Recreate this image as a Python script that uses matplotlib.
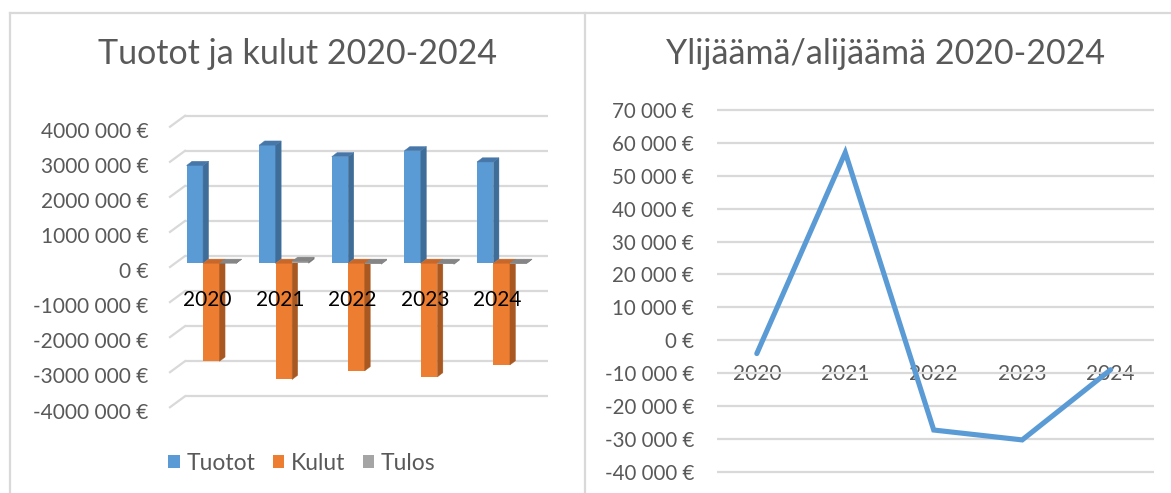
import numpy as np
import matplotlib
matplotlib.use('Agg')
import matplotlib.pyplot as plt
from matplotlib.patches import Polygon
from matplotlib.lines import Line2D
from matplotlib.transforms import ScaledTranslation

plt.rcParams['font.family'] = ['Lato', 'DejaVu Sans']

# data
years = ['2020', '2021', '2022', '2023', '2024']
tuotot = [2790000, 3370000, 3040000, 3210000, 2890000]
kulut = [-2794000, -3313000, -3067200, -3240200, -2898900]
tulos = [-4000, 57000, -27200, -30200, -8900]

left_ticks = [-4000000, -3000000, -2000000, -1000000, 0, 1000000, 2000000, 3000000, 4000000]
right_ticks = [-40000, -30000, -20000, -10000, 0, 10000, 20000, 30000, 40000, 50000, 60000, 70000]

GRAY_TXT = '#595959'
GRID = '#D9D9D9'

W, H, DPI = 1171, 493, 100
fig = plt.figure(figsize=(W / DPI, H / DPI), dpi=DPI)


def px_box(left, top, right, bottom):
    return [left / W, 1 - bottom / H, (right - left) / W, (bottom - top) / H]


def euro(v):
    v = int(v)
    if v == 0:
        return '0 €'
    sign = '-' if v < 0 else ''
    a = abs(v)
    return f'{sign}{a // 1000} {a % 1000:03d} €'


def shift_labels(labels, dx_px, dy_px):
    off = ScaledTranslation(dx_px / DPI, dy_px / DPI, fig.dpi_scale_trans)
    for lab in labels:
        lab.set_transform(lab.get_transform() + off)


# ---------- left: pseudo 3D column chart ----------
zero_y, per_m = 256.0, 35.06          # back-wall pixel row of 0 and px per million
ylo, yhi = -4.2e6, 4.2e6
ax1 = fig.add_axes(px_box(185, zero_y - yhi / 1e6 * per_m, 548, zero_y - ylo / 1e6 * per_m))
ax1.set_xlim(-0.5, 4.5)
ax1.set_ylim(ylo, yhi)
ppx = (548 - 185) / 5.0              # px per category
ppy = per_m / 1e6                    # px per euro

sx, sy = -10.0 / ppx, -7.3 / ppy     # front face offset from back wall
ddx, ddy = 5.5 / ppx, 4.2 / ppy      # bar depth
bw = 16.5 / ppx

series = [
    (tuotot, 'Tuotot', '#5B9BD5', '#3E6D99', '#4677A8'),
    (kulut, 'Kulut', '#ED7D31', '#A85820', '#C7682A'),
    (tulos, 'Tulos', '#A5A5A5', '#777777', '#858585'),
]
handles = []
x = np.arange(len(years))
for j, (vals, name, front, side, top) in enumerate(series):
    xs = x + (j - 1) * bw + sx
    bars = ax1.bar(xs, vals, bw, bottom=sy, color=front, linewidth=0, label=name, zorder=3 + j)
    handles.append(bars)
    for xc, v in zip(xs, vals):
        x0, x1 = xc - bw / 2, xc + bw / 2
        lo, hi = sy + min(v, 0), sy + max(v, 0)
        ax1.add_patch(Polygon([(x1, lo), (x1, hi), (x1 + ddx, hi + ddy), (x1 + ddx, lo + ddy)],
                              closed=True, facecolor=side, edgecolor=side, lw=0.3, zorder=3 + j))
        ax1.add_patch(Polygon([(x0, hi), (x1, hi), (x1 + ddx, hi + ddy), (x0 + ddx, hi + ddy)],
                              closed=True, facecolor=top, edgecolor=top, lw=0.3, zorder=3 + j))

ax1.set_yticks(left_ticks, [euro(v) for v in left_ticks])
ax1.grid(axis='y', color=GRID, lw=1.6)
ax1.set_axisbelow(True)
for yv in left_ticks:
    ax1.plot([-0.5, -0.5 - 15 / ppx], [yv, yv - 11 / ppy], color=GRID, lw=1.6,
             clip_on=False, zorder=0.5)
ax1.set_xticks(x, years)
ax1.spines['bottom'].set_position(('data', 0))
for s in ax1.spines.values():
    s.set_visible(False)
ax1.tick_params(axis='y', length=0, pad=26.4, labelsize=15, labelcolor=GRAY_TXT)
ax1.tick_params(axis='x', length=0, pad=24.2, labelsize=15, labelcolor='black')
ax1.xaxis.set_zorder(10)
shift_labels(ax1.get_yticklabels(), 0, -14.3)
shift_labels(ax1.get_xticklabels(), -14, 0)

fig.text(297 / W, 1 - 54 / H, 'Tuotot ja kulut 2020-2024', ha='center', va='center',
         fontsize=24.5, color=GRAY_TXT)
fig.legend(handles, [s[1] for s in series], loc='center', bbox_to_anchor=(302 / W, 1 - 463 / H),
           ncol=3, frameon=False, fontsize=16.5, labelcolor=GRAY_TXT,
           handlelength=0.5, handleheight=0.5, handletextpad=0.3, columnspacing=0.75)

# ---------- right: line chart ----------
zero_r, per_10k = 340.4, 32.95
rlo, rhi = -41000, 71000
ax2 = fig.add_axes(px_box(717, zero_r - rhi / 1e4 * per_10k, 1154, zero_r - rlo / 1e4 * per_10k))
ax2.set_xlim(-0.45, 4.49)
ax2.set_ylim(rlo, rhi)
ax2.plot(x, tulos, color='#5B9BD5', lw=3.7, solid_capstyle='round', solid_joinstyle='miter', zorder=3)
ax2.set_yticks(right_ticks, [euro(v) for v in right_ticks])
ax2.grid(axis='y', color=GRID, lw=1.6)
ax2.set_axisbelow(True)
ax2.set_xticks(x, years)
ax2.spines['bottom'].set_position(('data', 0))
for s in ax2.spines.values():
    s.set_visible(False)
ax2.tick_params(axis='y', length=0, pad=16.6, labelsize=14.8, labelcolor=GRAY_TXT)
ax2.tick_params(axis='x', length=0, pad=16.8, labelsize=15, labelcolor=GRAY_TXT)

fig.text(885 / W, 1 - 54 / H, 'Ylijäämä/alijäämä 2020-2024', ha='center', va='center',
         fontsize=24.5, color=GRAY_TXT)

# panel borders
for xs_, ys_ in [([10, W], [13, 13]), ([10, 10], [13, H]), ([585, 585], [13, H])]:
    fig.add_artist(Line2D([v / W for v in xs_], [1 - v / H for v in ys_], color=GRID, lw=1.6))

fig.savefig('out.png', dpi=DPI)
